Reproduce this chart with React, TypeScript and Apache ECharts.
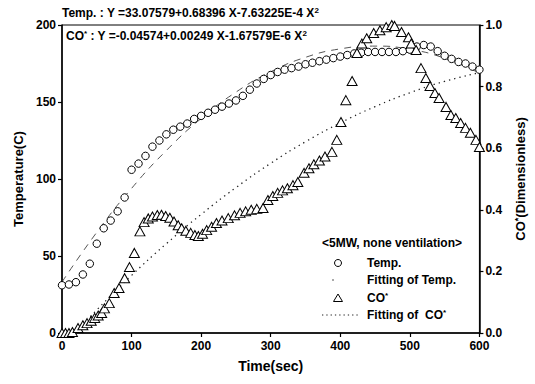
import React, { useEffect, useRef } from "react";
import * as echarts from "echarts";

// Measured temperature (°C) against time (s)
const tempTime = [0, 10, 20, 30, 40, 50, 60, 70, 80, 90, 100, 110, 120, 130, 140, 150, 160, 170, 180, 190, 200, 210, 220, 230, 240, 250, 260, 270, 280, 290, 300, 310, 320, 330, 340, 350, 360, 370, 380, 390, 400, 410, 420, 430, 440, 450, 460, 470, 480, 490, 500, 510, 520, 530, 540, 550, 560, 570, 580, 590, 600];
const tempValues = [31, 31.5, 33, 38, 45, 58, 68, 73, 79, 88, 106, 110, 115, 121, 125, 129, 132, 134, 136, 139, 141, 143, 145, 147, 149, 151, 154, 158, 162, 165, 167.5, 169.5, 171, 172, 173, 174.5, 175.5, 176.5, 177.5, 178.5, 179.5, 180.5, 181.5, 182, 182.5, 182.5, 182.5, 182.5, 182.5, 183, 184, 186, 187, 186, 183, 180, 178, 176, 175, 173, 171];

// Quadratic fit of temperature
const tempFitTime = [0, 50, 100, 150, 200, 250, 300, 350, 400, 450, 500, 550, 600];
const tempFitValues = [33.1, 65.4, 93.9, 118.5, 139.3, 156.4, 169.6, 179.0, 184.5, 186.3, 184.2, 178.4, 168.7];

// Normalised CO concentration against time (s)
const coTime = [0, 5, 10, 15, 23, 30, 36, 42, 47, 52, 57, 61, 68, 75, 82, 90, 97, 104, 112, 118, 124, 130, 137, 143, 149, 155, 161, 167, 172, 178, 185, 191, 196, 202, 208, 215, 222, 230, 239, 248, 256, 264, 272, 280, 289, 296, 303, 310, 317, 324, 332, 339, 348, 355, 362, 370, 378, 388, 395, 401, 408, 417, 424, 431, 438, 448, 457, 466, 474, 478, 488, 498, 502, 509, 516, 523, 529, 536, 542, 552, 559, 566, 573, 580, 587, 595, 600];
const coValues = [0, 0, 0, 0.003, 0.016, 0.025, 0.032, 0.04, 0.049, 0.057, 0.065, 0.08, 0.097, 0.13, 0.146, 0.178, 0.214, 0.26, 0.33, 0.36, 0.372, 0.378, 0.383, 0.384, 0.38, 0.374, 0.362, 0.35, 0.34, 0.332, 0.325, 0.318, 0.315, 0.322, 0.334, 0.345, 0.357, 0.365, 0.373, 0.382, 0.39, 0.395, 0.4, 0.403, 0.406, 0.432, 0.445, 0.455, 0.463, 0.47, 0.48, 0.49, 0.52, 0.535, 0.548, 0.56, 0.573, 0.588, 0.627, 0.685, 0.756, 0.818, 0.909, 0.94, 0.957, 0.974, 0.983, 0.993, 1.0, 0.997, 0.977, 0.96, 0.94, 0.919, 0.86, 0.828, 0.802, 0.779, 0.763, 0.734, 0.708, 0.698, 0.682, 0.666, 0.65, 0.627, 0.604];

// Quadratic fit of CO
const coFitTime = [20, 50, 100, 150, 200, 250, 300, 350, 400, 450, 500, 550, 600];
const coFitValues = [0.003, 0.075, 0.187, 0.29, 0.385, 0.472, 0.551, 0.621, 0.682, 0.735, 0.78, 0.817, 0.845];

const xTicks = { min: 0, max: 600, interval: 100 };
const leftTicks = { min: 0, max: 200, interval: 50 };
const rightTicks = { min: 0, max: 1, interval: 0.2 };

const legendTitle = "<5MW, none ventilation>";
const legendLabels = ["Temp.", "Fitting of Temp.", "CO{s|*}", "Fitting of  CO{s|*}"];

const FONT = "'Liberation Sans', Arial, sans-serif";

const pair = (xs: number[], ys: number[]) => xs.map((x, i) => [x, ys[i]]);

const sup = { fontSize: 8, fontWeight: "bold", fontFamily: FONT, fill: "#000", color: "#000", verticalAlign: "top", padding: [0, 0, 6, 0] } as any;

const TEMP_FIT_STYLE = { color: "#555", width: 1, type: [7, 6] as number[] };
const CO_FIT_STYLE = { color: "#222", width: 1.3, type: [1.3, 4] as number[] };

export default function App() {
  const ref = useRef<HTMLDivElement>(null);

  useEffect(() => {
    if (!ref.current) return;
    const chart = echarts.init(ref.current, undefined, { renderer: "svg" });

    const axisLabel = { color: "#000", fontFamily: FONT, fontWeight: "bold", fontSize: 12 };
    const axisLine = { show: true, lineStyle: { color: "#000", width: 1.5 } };
    const axisTick = { show: true, inside: false, length: 4, lineStyle: { color: "#000", width: 1.2 } };

    // Hand-built key in the lower right of the plot
    const keyX = 322;
    const keyTextX = 367;
    const rowY = [263, 280, 298, 315];
    const textStyle = (text: string, y: number) => ({
      type: "text",
      x: keyTextX,
      y,
      style: {
        text,
        fill: "#000",
        font: `bold 12px ${FONT}`,
        verticalAlign: "middle",
        rich: { s: { ...sup, padding: [0, 0, 5, 0] } },
      },
      z: 10,
    });
    const key: any[] = [
      {
        type: "text",
        x: keyX,
        y: 243,
        style: { text: legendTitle, fill: "#000", font: `bold 12px ${FONT}`, verticalAlign: "middle" },
        z: 10,
      },
      {
        type: "circle",
        shape: { cx: 338, cy: rowY[0], r: 3.5 },
        style: { fill: "#fff", stroke: "#000", lineWidth: 1 },
        z: 10,
      },
      {
        type: "line",
        shape: { x1: 332, y1: rowY[1], x2: 334, y2: rowY[1] },
        style: { stroke: TEMP_FIT_STYLE.color, lineWidth: 1 },
        z: 10,
      },
      {
        type: "polygon",
        shape: { points: [[333.5, rowY[2] + 3.5], [338, rowY[2] - 4], [342.5, rowY[2] + 3.5]] },
        style: { fill: "#fff", stroke: "#000", lineWidth: 1 },
        z: 10,
      },
      {
        type: "line",
        shape: { x1: keyX, y1: rowY[3], x2: 360, y2: rowY[3] },
        style: { stroke: CO_FIT_STYLE.color, lineWidth: 1.2, lineDash: [1.3, 3] },
        z: 10,
      },
      ...legendLabels.map((t, i) => textStyle(t, rowY[i])),
    ];

    chart.setOption({
      animation: false,
      backgroundColor: "#fff",
      grid: { left: 62, right: 51, top: 25, bottom: 51, show: true, borderColor: "#000", borderWidth: 1, containLabel: false },
      xAxis: {
        type: "value",
        ...xTicks,
        name: "Time(sec)",
        nameLocation: "middle",
        nameGap: 26,
        nameTextStyle: { color: "#000", fontFamily: FONT, fontWeight: "bold", fontSize: 14 },
        axisLine,
        axisTick,
        axisLabel: { ...axisLabel, margin: 7 },
        splitLine: { show: false },
      },
      yAxis: [
        {
          type: "value",
          ...leftTicks,
          name: "Temperature(C)",
          nameLocation: "middle",
          nameGap: 33,
          nameRotate: 90,
          nameTextStyle: { color: "#000", fontFamily: FONT, fontWeight: "bold", fontSize: 13 },
          axisLine,
          axisTick,
          axisLabel: { ...axisLabel, margin: 6 },
          splitLine: { show: false },
        },
        {
          type: "value",
          position: "right",
          ...rightTicks,
          name: "CO{s|*}(Dimensionless)",
          nameLocation: "middle",
          nameGap: 33,
          nameRotate: 90,
          nameTextStyle: {
            color: "#000",
            fontFamily: FONT,
            fontWeight: "bold",
            fontSize: 13,
            rich: { s: { ...sup, fontSize: 9 } },
          },
          axisLine,
          axisTick,
          axisLabel: { ...axisLabel, margin: 6, formatter: (v: number) => v.toFixed(1) },
          splitLine: { show: false },
        },
      ],
      graphic: [
        {
          type: "text",
          left: 62,
          top: 6,
          style: {
            text: "Temp. : Y =33.07579+0.68396 X-7.63225E-4 X{s|2}",
            fill: "#000",
            font: `bold 12px ${FONT}`,
            rich: { s: sup },
          },
        },
        {
          type: "text",
          left: 66,
          top: 29,
          style: {
            text: "CO{s|*} : Y =-0.04574+0.00249 X-1.67579E-6 X{s|2}",
            fill: "#000",
            font: `bold 12px ${FONT}`,
            rich: { s: sup },
          },
        },
        ...key,
      ],
      series: [
        {
          name: "Fitting of Temp.",
          type: "line",
          yAxisIndex: 0,
          data: pair(tempFitTime, tempFitValues),
          smooth: true,
          symbol: "none",
          lineStyle: TEMP_FIT_STYLE,
          z: 1,
        },
        {
          name: "Fitting of  CO*",
          type: "line",
          yAxisIndex: 1,
          data: pair(coFitTime, coFitValues),
          smooth: true,
          symbol: "none",
          lineStyle: CO_FIT_STYLE,
          z: 1,
        },
        {
          name: "Temp.",
          type: "scatter",
          yAxisIndex: 0,
          data: pair(tempTime, tempValues),
          symbol: "circle",
          symbolSize: 7.5,
          itemStyle: { color: "#fff", borderColor: "#000", borderWidth: 1, opacity: 1 },
          z: 2,
        },
        {
          name: "CO*",
          type: "scatter",
          yAxisIndex: 1,
          data: pair(coTime, coValues),
          symbol: "triangle",
          symbolSize: [10, 9],
          itemStyle: { color: "#fff", borderColor: "#000", borderWidth: 1, opacity: 1 },
          z: 3,
        },
      ],
    });

    return () => chart.dispose();
  }, []);

  return (
    <div
      ref={ref}
      style={{ position: "fixed", left: 0, top: 0, width: 535, height: 384, background: "#fff" }}
    />
  );
}
